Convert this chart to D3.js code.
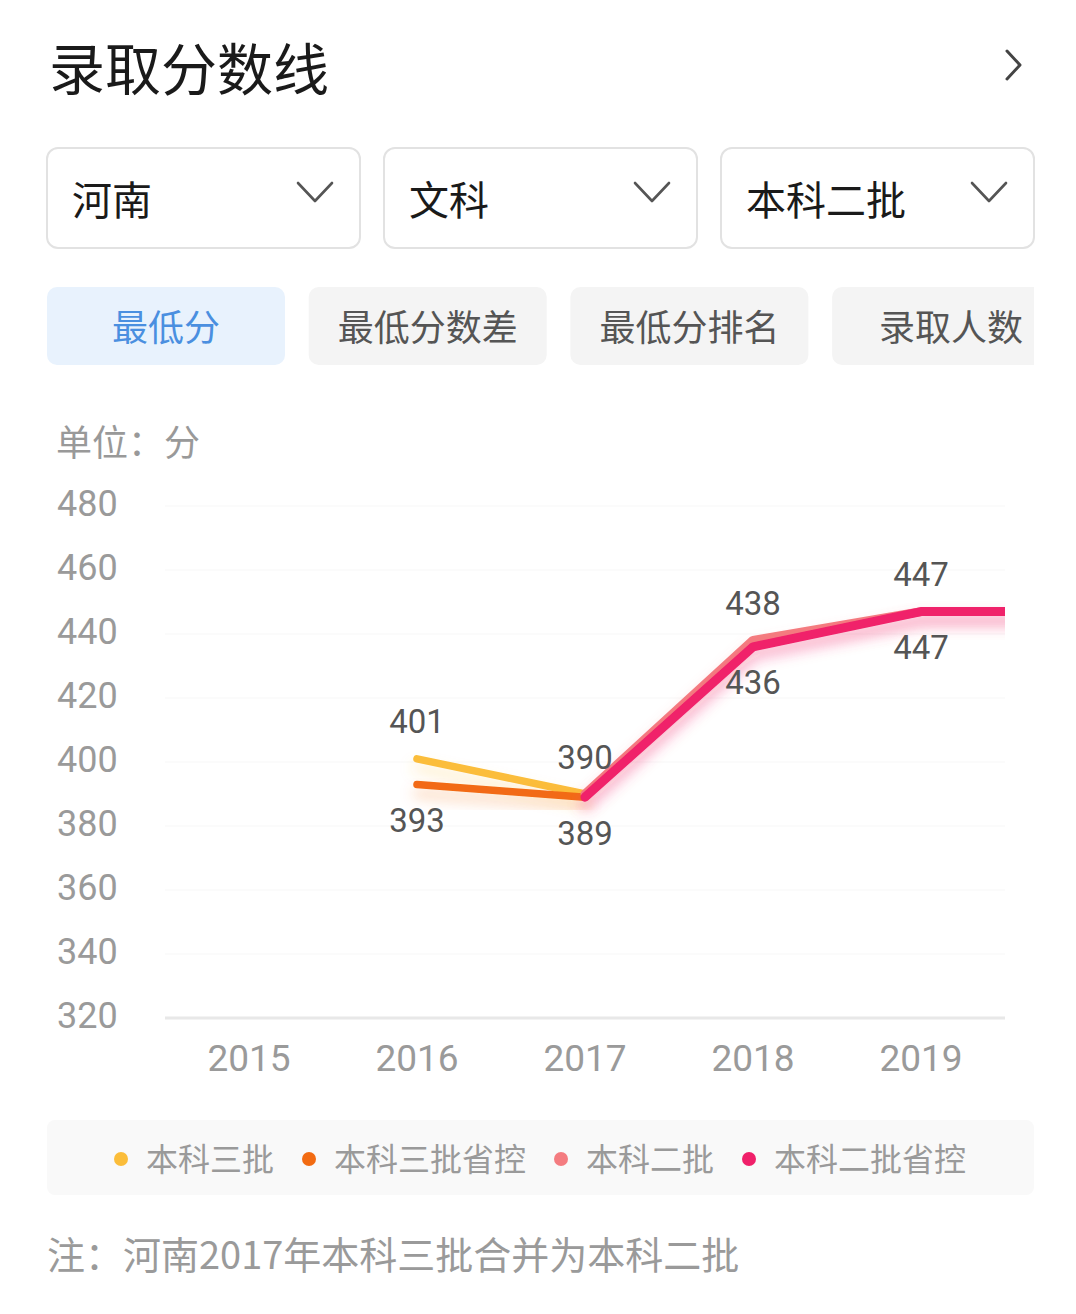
<!DOCTYPE html>
<html>
<head>
<meta charset="utf-8">
<script src="https://cdn.jsdelivr.net/npm/d3@7"></script>
<style>
  html, body { margin: 0; padding: 0; background: #fff; }
  svg { display: block; }
  text { font-family: Roboto, "Noto Sans CJK SC", sans-serif; }
</style>
</head>
<body>
<svg id="chart" width="1076" height="1314"></svg>
<script>
// ---------- data ----------
const title = "录取分数线";
const dropdowns = ["河南", "文科", "本科二批"];
const tabs = ["最低分", "最低分数差", "最低分排名", "录取人数"];
const unitLabel = "单位：分";
const years = ["2015", "2016", "2017", "2018", "2019", "2020"]; // 2020 scrolled off to the right
const yTicks = [320, 340, 360, 380, 400, 420, 440, 460, 480];
const seriesNames = ["本科三批", "本科三批省控", "本科二批", "本科二批省控"];
const seriesColors = ["#fbbd3a", "#f26b12", "#f47c80", "#f0206a"];
const benke3 =       [null, 401, 390, null, null, null];
const benke3Sheng =  [null, 393, 389, null, null, null];
const benke2 =       [null, null, 390, 438, 447, 447];
const benke2Sheng =  [null, null, 389, 436, 447, 447];
const labelSide = ["above", "below", "above", "below"];
const note = "注：河南2017年本科三批合并为本科二批";

const seriesValues = [benke3, benke3Sheng, benke2, benke2Sheng];

// ---------- drawing ----------
const svg = d3.select("#chart");
const CJK = '"Noto Sans CJK SC", sans-serif';
const NUM = 'Roboto, "Noto Sans CJK SC", sans-serif';

// title
svg.append("text").attr("x", 49).attr("y", 65).attr("dominant-baseline", "central")
  .style("font-family", CJK).style("font-size", "56px").style("font-weight", 400)
  .attr("fill", "#1a1a1a").text(title);
svg.append("path").attr("d", "M1007,51 L1020,65 L1007,79")
  .attr("fill", "none").attr("stroke", "#444").attr("stroke-width", 3)
  .attr("stroke-linecap", "round").attr("stroke-linejoin", "round");

// dropdowns
dropdowns.forEach((t, i) => {
  const x0 = 47 + i * 337, w = 313;
  const g = svg.append("g");
  g.append("rect").attr("x", x0).attr("y", 148).attr("width", w).attr("height", 100)
    .attr("rx", 11).attr("fill", "#fff").attr("stroke", "#e2e2e2").attr("stroke-width", 2);
  g.append("text").attr("x", x0 + 25).attr("y", 198).attr("dominant-baseline", "central")
    .style("font-family", CJK).style("font-size", "40px").attr("fill", "#1a1a1a").text(t);
  g.append("path").attr("d", `M${x0 + w - 62},${183} L${x0 + w - 45},${201} L${x0 + w - 28},${183}`)
    .attr("fill", "none").attr("stroke", "#555").attr("stroke-width", 2.6)
    .attr("stroke-linecap", "round").attr("stroke-linejoin", "round");
});

// tabs
const defs = svg.append("defs");
defs.append("clipPath").attr("id", "tabclip").append("rect")
  .attr("x", 0).attr("y", 270).attr("width", 1034).attr("height", 110);
const tabG = svg.append("g").attr("clip-path", "url(#tabclip)");
tabs.forEach((t, i) => {
  const x0 = 47 + i * 261.7, w = 238;
  tabG.append("rect").attr("x", x0).attr("y", 287).attr("width", w).attr("height", 78)
    .attr("rx", 10).attr("fill", i === 0 ? "#e8f2fd" : "#f4f4f4");
  tabG.append("text").attr("x", x0 + w / 2).attr("y", 325).attr("text-anchor", "middle")
    .attr("dominant-baseline", "central")
    .style("font-family", CJK).style("font-size", "36px")
    .attr("fill", i === 0 ? "#4a8fe0" : "#555").text(t);
});

// unit label
svg.append("text").attr("x", 56).attr("y", 440).attr("dominant-baseline", "central")
  .style("font-family", CJK).style("font-size", "36px").attr("fill", "#999").text(unitLabel);

// scales
const plotLeft = 165, plotRight = 1005;
const x = d3.scaleBand().domain(years.slice(0, 5)).range([plotLeft, plotRight]);
const step = x.step();
const xPos = y => plotLeft + step * (years.indexOf(y) + 0.5);
const y = d3.scaleLinear().domain([320, 480]).range([1018, 506]);

// grid
const grid = svg.append("g");
grid.selectAll("line").data(yTicks.slice(1)).join("line")
  .attr("x1", plotLeft).attr("x2", plotRight)
  .attr("y1", d => y(d)).attr("y2", d => y(d))
  .attr("stroke", "#f7f7f7").attr("stroke-width", 1.2);
grid.append("line").attr("x1", plotLeft).attr("x2", plotRight)
  .attr("y1", y(320)).attr("y2", y(320)).attr("stroke", "#e8e8e8").attr("stroke-width", 3);

// y axis labels via d3 axis
const yAxis = svg.append("g").attr("transform", "translate(57,0)")
  .call(d3.axisRight(y).tickValues(yTicks).tickSize(0).tickPadding(0));
yAxis.select(".domain").remove();
yAxis.selectAll("text").attr("dy", null).attr("y", -3).attr("dominant-baseline", "central")
  .attr("text-anchor", "start").style("font-family", NUM).style("font-size", "36px").attr("fill", "#9a9a9a");

// x axis labels
const xAxis = svg.append("g").attr("transform", "translate(0,1058)")
  .call(d3.axisBottom(x).tickSize(0).tickPadding(0));
xAxis.select(".domain").remove();
xAxis.selectAll("text").attr("dy", null).attr("y", 0).attr("dominant-baseline", "central")
  .style("font-family", NUM).style("font-size", "37px").attr("fill", "#9a9a9a");

// plot clip + shadow filters
defs.append("clipPath").attr("id", "plotclip").append("rect")
  .attr("x", 100).attr("y", 480).attr("width", plotRight - 100).attr("height", 560);
seriesColors.forEach((c, i) => {
  const f = defs.append("filter").attr("id", "sh" + i)
    .attr("x", "-20%").attr("y", "-50%").attr("width", "140%").attr("height", "250%");
  f.append("feDropShadow").attr("dx", 0).attr("dy", 9).attr("stdDeviation", 7)
    .attr("flood-color", c).attr("flood-opacity", 0.3);
});

const plot = svg.append("g").attr("clip-path", "url(#plotclip)");
const line = d3.line()
  .defined(d => d.v != null)
  .x(d => xPos(d.year)).y(d => y(d.v));

seriesValues.forEach((vals, i) => {
  const pts = vals.map((v, j) => ({ year: years[j], v }));
  plot.append("path").datum(pts)
    .attr("d", line)
    .attr("fill", "none")
    .attr("stroke", seriesColors[i])
    .attr("stroke-width", i < 2 ? 7.5 : 9)
    .attr("stroke-linecap", "round").attr("stroke-linejoin", "round")
    .attr("filter", `url(#sh${i})`);
});

// data labels (deduplicated by year + side)
const seen = new Set();
const labels = [];
seriesValues.forEach((vals, i) => {
  vals.forEach((v, j) => {
    if (v == null || j >= 5) return;
    const key = years[j] + labelSide[i];
    if (seen.has(key)) return;
    seen.add(key);
    labels.push({ year: years[j], v, side: labelSide[i] });
  });
});
svg.append("g").selectAll("text").data(labels).join("text")
  .attr("x", d => xPos(d.year))
  .attr("y", d => y(d.v) + (d.side === "above" ? -37 : 36))
  .attr("text-anchor", "middle").attr("dominant-baseline", "central")
  .style("font-family", NUM).style("font-size", "33px").attr("fill", "#555")
  .text(d => d.v);

// legend
svg.append("rect").attr("x", 47).attr("y", 1120).attr("width", 987).attr("height", 75)
  .attr("rx", 8).attr("fill", "#f9f9f9");
const legG = svg.append("g");
let lx = 0;
const items = [];
const legFont = 32;
seriesNames.forEach((n, i) => {
  items.push({ n, c: seriesColors[i], x: lx });
  lx += 25 + n.length * legFont + 35;
});
const lStart = 121;
items.forEach(it => {
  legG.append("circle").attr("cx", lStart + it.x).attr("cy", 1159).attr("r", 7).attr("fill", it.c);
  legG.append("text").attr("x", lStart + it.x + 25).attr("y", 1157).attr("dominant-baseline", "central")
    .style("font-family", CJK).style("font-size", legFont + "px").attr("fill", "#9a9a9a").text(it.n);
});

// note
svg.append("text").attr("x", 47).attr("y", 1252).attr("dominant-baseline", "central")
  .style("font-family", CJK).style("font-size", "38px").attr("fill", "#9a9a9a").text(note);
</script>
</body>
</html>
